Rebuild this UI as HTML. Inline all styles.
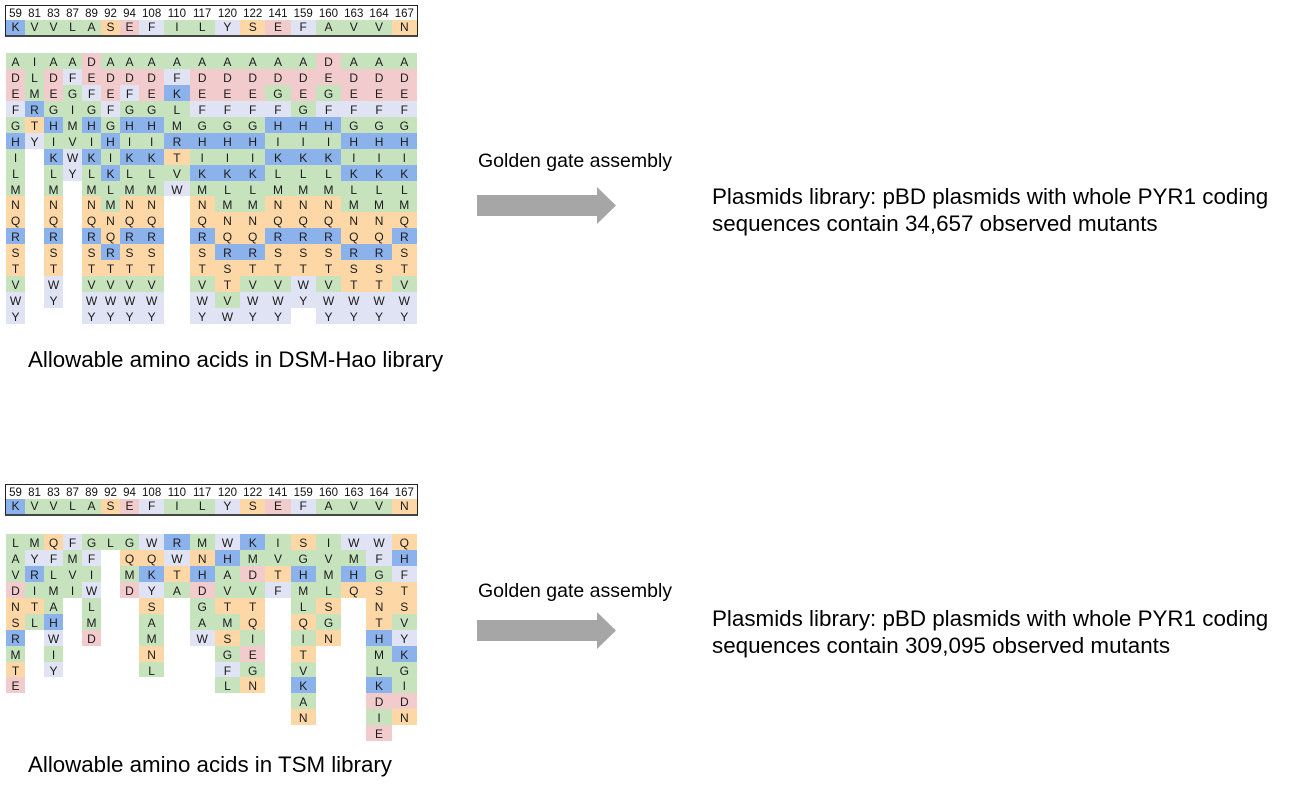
<!DOCTYPE html>
<html>
<head>
<meta charset="utf-8">
<style>
html,body{margin:0;padding:0;background:#fff;}
body{width:1292px;height:791px;position:relative;overflow:hidden;font-family:"Liberation Sans",Arial,sans-serif;color:#000;}
.hdr{position:absolute;left:5px;width:413px;height:32px;border:1px solid #222;border-bottom:2px solid #444;box-sizing:border-box;}
.nums{display:flex;height:14px;font-size:11.5px;line-height:16px;color:#111;}
.nums span{display:block;text-align:center;white-space:nowrap;}
.lets{display:flex;height:15px;}
.lets i{display:block;height:15px;line-height:15px;text-align:center;font-style:normal;font-size:12px;color:#1a1a1a;}
.grid{position:absolute;left:6px;display:flex;align-items:flex-start;}
.grid div i{display:block;height:15.94px;line-height:18px;text-align:center;font-style:normal;font-size:12px;color:#1a1a1a;}
.n{width:19px;flex:none;}
.w{width:25.27px;flex:none;}
.A,.G,.I,.L,.M,.V{background:#c6e3bd;}
.D,.E{background:#f2cccc;}
.F,.W,.Y{background:#dfe3f3;}
.H,.K,.R{background:#8cb2ec;}
.N,.Q,.S,.T{background:#fdd8a6;}
.t{position:absolute;white-space:nowrap;}
.gg{font-size:19.5px;line-height:21.8px;left:478px;}
.pl{font-size:22.4px;line-height:26.5px;left:712px;}
.al{font-size:22.3px;line-height:24.9px;left:28px;}
svg{position:absolute;left:0;top:0;}
</style>
</head>
<body>

<!-- TOP HEADER -->
<div class="hdr" style="top:5px">
  <div class="nums">
    <span class="n">59</span><span class="n">81</span><span class="n">83</span><span class="n">87</span><span class="n">89</span><span class="n">92</span><span class="n">94</span><span class="w">108</span><span class="w">110</span><span class="w">117</span><span class="w">120</span><span class="w">122</span><span class="w">141</span><span class="w">159</span><span class="w">160</span><span class="w">163</span><span class="w">164</span><span class="w">167</span>
  </div>
  <div class="lets">
    <i class="n K">K</i><i class="n V">V</i><i class="n V">V</i><i class="n L">L</i><i class="n A">A</i><i class="n S">S</i><i class="n E">E</i><i class="w F">F</i><i class="w I">I</i><i class="w L">L</i><i class="w Y">Y</i><i class="w S">S</i><i class="w E">E</i><i class="w F">F</i><i class="w A">A</i><i class="w V">V</i><i class="w V">V</i><i class="w N">N</i>
  </div>
</div>

<!-- TOP GRID -->
<div class="grid" style="top:53px">
  <div class="n"><i class="A">A</i><i class="D">D</i><i class="E">E</i><i class="F">F</i><i class="G">G</i><i class="H">H</i><i class="I">I</i><i class="L">L</i><i class="M">M</i><i class="N">N</i><i class="Q">Q</i><i class="R">R</i><i class="S">S</i><i class="T">T</i><i class="V">V</i><i class="W">W</i><i class="Y">Y</i></div>
  <div class="n"><i class="I">I</i><i class="L">L</i><i class="M">M</i><i class="R">R</i><i class="T">T</i><i class="Y">Y</i></div>
  <div class="n"><i class="A">A</i><i class="D">D</i><i class="E">E</i><i class="G">G</i><i class="H">H</i><i class="I">I</i><i class="K">K</i><i class="L">L</i><i class="M">M</i><i class="N">N</i><i class="Q">Q</i><i class="R">R</i><i class="S">S</i><i class="T">T</i><i class="W">W</i><i class="Y">Y</i></div>
  <div class="n"><i class="A">A</i><i class="F">F</i><i class="G">G</i><i class="I">I</i><i class="M">M</i><i class="V">V</i><i class="W">W</i><i class="Y">Y</i></div>
  <div class="n"><i class="D">D</i><i class="E">E</i><i class="F">F</i><i class="G">G</i><i class="H">H</i><i class="I">I</i><i class="K">K</i><i class="L">L</i><i class="M">M</i><i class="N">N</i><i class="Q">Q</i><i class="R">R</i><i class="S">S</i><i class="T">T</i><i class="V">V</i><i class="W">W</i><i class="Y">Y</i></div>
  <div class="n"><i class="A">A</i><i class="D">D</i><i class="E">E</i><i class="F">F</i><i class="G">G</i><i class="H">H</i><i class="I">I</i><i class="K">K</i><i class="L">L</i><i class="M">M</i><i class="N">N</i><i class="Q">Q</i><i class="R">R</i><i class="T">T</i><i class="V">V</i><i class="W">W</i><i class="Y">Y</i></div>
  <div class="n"><i class="A">A</i><i class="D">D</i><i class="F">F</i><i class="G">G</i><i class="H">H</i><i class="I">I</i><i class="K">K</i><i class="L">L</i><i class="M">M</i><i class="N">N</i><i class="Q">Q</i><i class="R">R</i><i class="S">S</i><i class="T">T</i><i class="V">V</i><i class="W">W</i><i class="Y">Y</i></div>
  <div class="w"><i class="A">A</i><i class="D">D</i><i class="E">E</i><i class="G">G</i><i class="H">H</i><i class="I">I</i><i class="K">K</i><i class="L">L</i><i class="M">M</i><i class="N">N</i><i class="Q">Q</i><i class="R">R</i><i class="S">S</i><i class="T">T</i><i class="V">V</i><i class="W">W</i><i class="Y">Y</i></div>
  <div class="w"><i class="A">A</i><i class="F">F</i><i class="K">K</i><i class="L">L</i><i class="M">M</i><i class="R">R</i><i class="T">T</i><i class="V">V</i><i class="W">W</i></div>
  <div class="w"><i class="A">A</i><i class="D">D</i><i class="E">E</i><i class="F">F</i><i class="G">G</i><i class="H">H</i><i class="I">I</i><i class="K">K</i><i class="M">M</i><i class="N">N</i><i class="Q">Q</i><i class="R">R</i><i class="S">S</i><i class="T">T</i><i class="V">V</i><i class="W">W</i><i class="Y">Y</i></div>
  <div class="w"><i class="A">A</i><i class="D">D</i><i class="E">E</i><i class="F">F</i><i class="G">G</i><i class="H">H</i><i class="I">I</i><i class="K">K</i><i class="L">L</i><i class="M">M</i><i class="N">N</i><i class="Q">Q</i><i class="R">R</i><i class="S">S</i><i class="T">T</i><i class="V">V</i><i class="W">W</i></div>
  <div class="w"><i class="A">A</i><i class="D">D</i><i class="E">E</i><i class="F">F</i><i class="G">G</i><i class="H">H</i><i class="I">I</i><i class="K">K</i><i class="L">L</i><i class="M">M</i><i class="N">N</i><i class="Q">Q</i><i class="R">R</i><i class="T">T</i><i class="V">V</i><i class="W">W</i><i class="Y">Y</i></div>
  <div class="w"><i class="A">A</i><i class="D">D</i><i class="G">G</i><i class="F">F</i><i class="H">H</i><i class="I">I</i><i class="K">K</i><i class="L">L</i><i class="M">M</i><i class="N">N</i><i class="Q">Q</i><i class="R">R</i><i class="S">S</i><i class="T">T</i><i class="V">V</i><i class="W">W</i><i class="Y">Y</i></div>
  <div class="w"><i class="A">A</i><i class="D">D</i><i class="E">E</i><i class="G">G</i><i class="H">H</i><i class="I">I</i><i class="K">K</i><i class="L">L</i><i class="M">M</i><i class="N">N</i><i class="Q">Q</i><i class="R">R</i><i class="S">S</i><i class="T">T</i><i class="W">W</i><i class="Y">Y</i></div>
  <div class="w"><i class="D">D</i><i class="E">E</i><i class="G">G</i><i class="F">F</i><i class="H">H</i><i class="I">I</i><i class="K">K</i><i class="L">L</i><i class="M">M</i><i class="N">N</i><i class="Q">Q</i><i class="R">R</i><i class="S">S</i><i class="T">T</i><i class="V">V</i><i class="W">W</i><i class="Y">Y</i></div>
  <div class="w"><i class="A">A</i><i class="D">D</i><i class="E">E</i><i class="F">F</i><i class="G">G</i><i class="H">H</i><i class="I">I</i><i class="K">K</i><i class="L">L</i><i class="M">M</i><i class="N">N</i><i class="Q">Q</i><i class="R">R</i><i class="S">S</i><i class="T">T</i><i class="W">W</i><i class="Y">Y</i></div>
  <div class="w"><i class="A">A</i><i class="D">D</i><i class="E">E</i><i class="F">F</i><i class="G">G</i><i class="H">H</i><i class="I">I</i><i class="K">K</i><i class="L">L</i><i class="M">M</i><i class="N">N</i><i class="Q">Q</i><i class="R">R</i><i class="S">S</i><i class="T">T</i><i class="W">W</i><i class="Y">Y</i></div>
  <div class="w"><i class="A">A</i><i class="D">D</i><i class="E">E</i><i class="F">F</i><i class="G">G</i><i class="H">H</i><i class="I">I</i><i class="K">K</i><i class="L">L</i><i class="M">M</i><i class="Q">Q</i><i class="R">R</i><i class="S">S</i><i class="T">T</i><i class="V">V</i><i class="W">W</i><i class="Y">Y</i></div>
</div>

<div class="t al" style="top:348px">Allowable amino acids in DSM-Hao library</div>

<!-- BOTTOM HEADER -->
<div class="hdr" style="top:484px">
  <div class="nums">
    <span class="n">59</span><span class="n">81</span><span class="n">83</span><span class="n">87</span><span class="n">89</span><span class="n">92</span><span class="n">94</span><span class="w">108</span><span class="w">110</span><span class="w">117</span><span class="w">120</span><span class="w">122</span><span class="w">141</span><span class="w">159</span><span class="w">160</span><span class="w">163</span><span class="w">164</span><span class="w">167</span>
  </div>
  <div class="lets">
    <i class="n K">K</i><i class="n V">V</i><i class="n V">V</i><i class="n L">L</i><i class="n A">A</i><i class="n S">S</i><i class="n E">E</i><i class="w F">F</i><i class="w I">I</i><i class="w L">L</i><i class="w Y">Y</i><i class="w S">S</i><i class="w E">E</i><i class="w F">F</i><i class="w A">A</i><i class="w V">V</i><i class="w V">V</i><i class="w N">N</i>
  </div>
</div>

<!-- BOTTOM GRID -->
<div class="grid" style="top:534px">
  <div class="n"><i class="L">L</i><i class="A">A</i><i class="V">V</i><i class="D">D</i><i class="N">N</i><i class="S">S</i><i class="R">R</i><i class="M">M</i><i class="T">T</i><i class="E">E</i></div>
  <div class="n"><i class="M">M</i><i class="Y">Y</i><i class="R">R</i><i class="I">I</i><i class="T">T</i><i class="L">L</i></div>
  <div class="n"><i class="Q">Q</i><i class="F">F</i><i class="L">L</i><i class="M">M</i><i class="A">A</i><i class="H">H</i><i class="W">W</i><i class="I">I</i><i class="Y">Y</i></div>
  <div class="n"><i class="F">F</i><i class="M">M</i><i class="V">V</i><i class="I">I</i></div>
  <div class="n"><i class="G">G</i><i class="F">F</i><i class="I">I</i><i class="W">W</i><i class="L">L</i><i class="M">M</i><i class="D">D</i></div>
  <div class="n"><i class="L">L</i></div>
  <div class="n"><i class="G">G</i><i class="Q">Q</i><i class="M">M</i><i class="D">D</i></div>
  <div class="w"><i class="W">W</i><i class="Q">Q</i><i class="K">K</i><i class="Y">Y</i><i class="S">S</i><i class="A">A</i><i class="M">M</i><i class="N">N</i><i class="L">L</i></div>
  <div class="w"><i class="R">R</i><i class="W">W</i><i class="T">T</i><i class="A">A</i></div>
  <div class="w"><i class="M">M</i><i class="N">N</i><i class="H">H</i><i class="D">D</i><i class="G">G</i><i class="A">A</i><i class="W">W</i></div>
  <div class="w"><i class="W">W</i><i class="H">H</i><i class="A">A</i><i class="V">V</i><i class="T">T</i><i class="M">M</i><i class="S">S</i><i class="G">G</i><i class="F">F</i><i class="L">L</i></div>
  <div class="w"><i class="K">K</i><i class="M">M</i><i class="D">D</i><i class="V">V</i><i class="T">T</i><i class="Q">Q</i><i class="I">I</i><i class="E">E</i><i class="G">G</i><i class="N">N</i></div>
  <div class="w"><i class="I">I</i><i class="V">V</i><i class="T">T</i><i class="F">F</i></div>
  <div class="w"><i class="S">S</i><i class="G">G</i><i class="H">H</i><i class="M">M</i><i class="L">L</i><i class="Q">Q</i><i class="I">I</i><i class="T">T</i><i class="V">V</i><i class="K">K</i><i class="A">A</i><i class="N">N</i></div>
  <div class="w"><i class="I">I</i><i class="V">V</i><i class="M">M</i><i class="L">L</i><i class="S">S</i><i class="G">G</i><i class="N">N</i></div>
  <div class="w"><i class="W">W</i><i class="M">M</i><i class="H">H</i><i class="Q">Q</i></div>
  <div class="w"><i class="W">W</i><i class="F">F</i><i class="G">G</i><i class="S">S</i><i class="N">N</i><i class="T">T</i><i class="H">H</i><i class="M">M</i><i class="L">L</i><i class="K">K</i><i class="D">D</i><i class="I">I</i><i class="E">E</i></div>
  <div class="w"><i class="Q">Q</i><i class="H">H</i><i class="F">F</i><i class="T">T</i><i class="S">S</i><i class="V">V</i><i class="Y">Y</i><i class="K">K</i><i class="G">G</i><i class="I">I</i><i class="D">D</i><i class="N">N</i></div>
</div>

<div class="t al" style="top:753px">Allowable amino acids in TSM library</div>

<!-- ARROWS -->
<svg width="1292" height="791" viewBox="0 0 1292 791">
  <polygon points="477,195 597,195 597,187 616,205.5 597,224 597,216 477,216" fill="#a6a6a6"/>
  <polygon points="477,620 597,620 597,612 616,630.5 597,649 597,641 477,641" fill="#a6a6a6"/>
</svg>

<div class="t gg" style="top:151px">Golden gate assembly</div>
<div class="t pl" style="top:184px">Plasmids library: pBD plasmids with whole PYR1 coding<br>sequences contain 34,657 observed mutants</div>

<div class="t gg" style="top:581px">Golden gate assembly</div>
<div class="t pl" style="top:606px">Plasmids library: pBD plasmids with whole PYR1 coding<br>sequences contain 309,095 observed mutants</div>

</body>
</html>
